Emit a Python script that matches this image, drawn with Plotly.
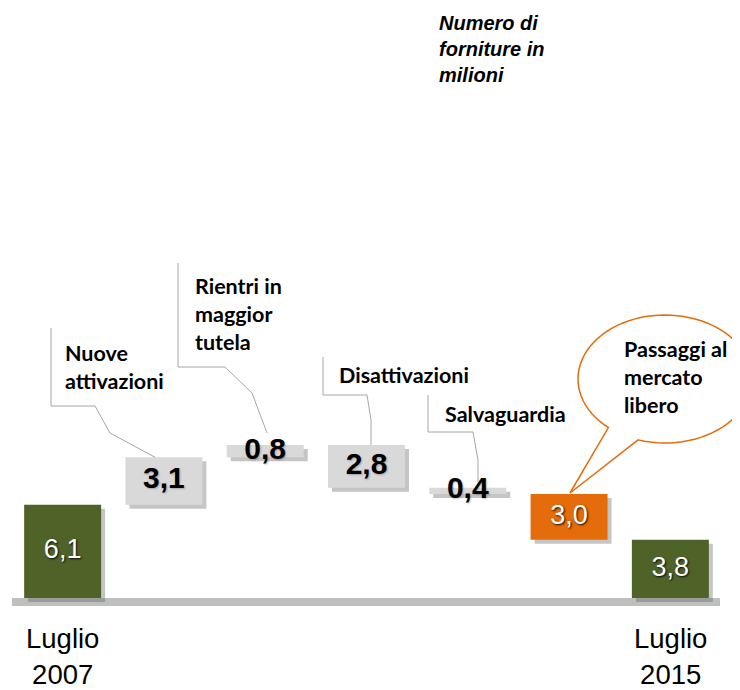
import math
import plotly.graph_objects as go

# -----------------------------------------
# DATA (milioni di forniture)
# -----------------------------------------
categories = ["Luglio 2007", "Nuove attivazioni", "Rientri in maggior tutela",
              "Disattivazioni", "Salvaguardia", "Passaggi al mercato libero",
              "Luglio 2015"]
values = [6.1, 3.1, 0.8, -2.8, -0.4, -3.0, 3.8]
measures = ["total", "relative", "relative", "relative", "relative", "relative", "total"]
bar_colors = ["#4F6228", "#D9D9D9", "#D9D9D9", "#D9D9D9", "#D9D9D9", "#E46C0A", "#4F6228"]
light_text = [True, False, False, False, False, True, True]
end_labels = ["Luglio<br>2007", "Luglio<br>2015"]
callout_labels = ["Nuove<br>attivazioni", "Rientri in<br>maggior<br>tutela",
                  "Disattivazioni", "Salvaguardia"]
bubble_label = "Passaggi al<br>mercato<br>libero"
unit_note = "<i>Numero di<br>forniture in<br>milioni</i>"

# -----------------------------------------
# Waterfall bases
# -----------------------------------------
bases, heights = [], []
running = 0
for v, m in zip(values, measures):
    if m == "total":
        bases.append(0)
        heights.append(v)
        running = v
    else:
        bases.append(running + min(v, 0))
        heights.append(abs(v))
        running += v
tops = [b + h for b, h in zip(bases, heights)]
mids = [b + h / 2 for b, h in zip(bases, heights)]
xs = list(range(len(categories)))
labels = [f"{abs(v):.1f}".replace(".", ",") for v in values]

# pixel helpers, in page pixels (the figure sits 8px in from the page corner)
PAGE = 8
PX_X, X0 = 101.286, 12
PX_Y, Y0 = 15.3, 598


def X(px):
    return (px - X0) / PX_X - 0.5


def Y(py):
    return (Y0 - py) / PX_Y


W = 0.76
fig = go.Figure()

# drop shadow
fig.add_trace(go.Bar(
    x=xs, y=heights, base=[b - 4 / PX_Y for b in bases],
    width=W, offset=-W / 2 + 4 / PX_X,
    marker_color="rgba(90,90,90,0.35)", marker_line_width=0,
    hoverinfo="skip"
))

fig.add_trace(go.Bar(
    x=xs, y=heights, base=bases,
    width=W, offset=-W / 2,
    marker_color=bar_colors, marker_line_width=0,
    customdata=categories,
    hovertemplate="<b>%{customdata}</b><extra></extra>"
))

# value labels: white on dark bars, bold black on grey bars
sel = [i for i in xs if light_text[i]]
fig.add_trace(go.Scatter(
    x=[xs[i] for i in sel], y=[mids[i] for i in sel], mode="text",
    text=[labels[i] for i in sel], textposition="middle center",
    textfont=dict(family="Liberation Sans, Arial", size=27, color="white",
                  shadow="1px 1px 2px rgba(0,0,0,0.9)"),
    hoverinfo="skip"
))
sel = [i for i in xs if not light_text[i]]
fig.add_trace(go.Scatter(
    x=[xs[i] for i in sel], y=[mids[i] for i in sel], mode="text",
    text=[labels[i] for i in sel], textposition="middle center",
    textfont=dict(family="Liberation Sans, Arial", size=30, color="black", weight=700,
                  shadow="1px 1px 2px rgba(0,0,0,0.25)"),
    hoverinfo="skip"
))

# baseline
fig.add_shape(type="rect", x0=X(12), x1=X(720), y0=-8 / PX_Y, y1=0,
              fillcolor="#BFBFBF", line_width=0, layer="below")

# leader lines (pixel paths, last point on bar)
leaders = [
    [(51, 328), (51, 406), (95, 406), (110, 433), (155, None)],
    [(178, 263), (178, 367), (225, 367), (252, 393), (267, 433)],
    [(323, 357), (323, 395), (367, 395), (371, 420), (371, None)],
    [(428, 395), (428, 432), (473, 432), (478, 460), (478, 482)],
]
for i, pts in zip([1, 2, 3, 4], leaders):
    coords = []
    for px, py in pts:
        coords.append((X(px), tops[i] if py is None else Y(py)))
    path = "M " + " L ".join(f"{a:.4f},{b:.4f}" for a, b in coords)
    fig.add_shape(type="path", path=path, line=dict(color="#A6A6A6", width=1))

# speech bubble
cx, cy, rx, ry = 665, 379, 87, 64
t1, t2 = math.radians(130.6), math.radians(108)
pts = []
n = 80
for k in range(n + 1):
    t = t2 - (t2 - (t1 - 2 * math.pi)) * k / n
    pts.append((cx + rx * math.cos(t), cy + ry * math.sin(t)))
pts.append((570, 493))
path = "M " + " L ".join(f"{X(a):.4f},{Y(b):.4f}" for a, b in pts) + " Z"
fig.add_shape(type="path", path=path, fillcolor="white",
              line=dict(color="#E46C0A", width=1.5))

# text labels
label_font = dict(family="Lato", size=21.5, color="black", weight=700)
for txt, (px, py) in zip(callout_labels, [(63, 367), (193, 314), (337, 375), (443, 414)]):
    fig.add_annotation(x=X(px), y=Y(py), text=txt, showarrow=False,
                       xanchor="left", yanchor="middle", align="left", font=label_font)
fig.add_annotation(x=X(622), y=Y(377), text=bubble_label, showarrow=False,
                   xanchor="left", yanchor="middle", align="left", font=label_font)
fig.add_annotation(x=X(437), y=Y(49), text=unit_note, showarrow=False,
                   xanchor="left", yanchor="middle", align="left",
                   font=dict(family="Liberation Sans, Arial", size=20, color="black",
                             weight=700))
for i, txt in zip([0, len(categories) - 1], end_labels):
    fig.add_annotation(x=xs[i], y=Y(656), text=txt, showarrow=False,
                       xanchor="center", yanchor="middle", align="center",
                       font=dict(family="Liberation Sans, Arial", size=27.5, color="black"))

fig.update_layout(
    width=740, height=690, autosize=False,
    margin=dict(l=0, r=0, t=0, b=0),
    paper_bgcolor="white", plot_bgcolor="white",
    showlegend=False, barmode="overlay",
    xaxis=dict(range=[X(PAGE), X(740 + PAGE)], visible=False, fixedrange=True),
    yaxis=dict(range=[Y(690 + PAGE), Y(PAGE)], visible=False, fixedrange=True),
)

fig.write_html("out.html")
